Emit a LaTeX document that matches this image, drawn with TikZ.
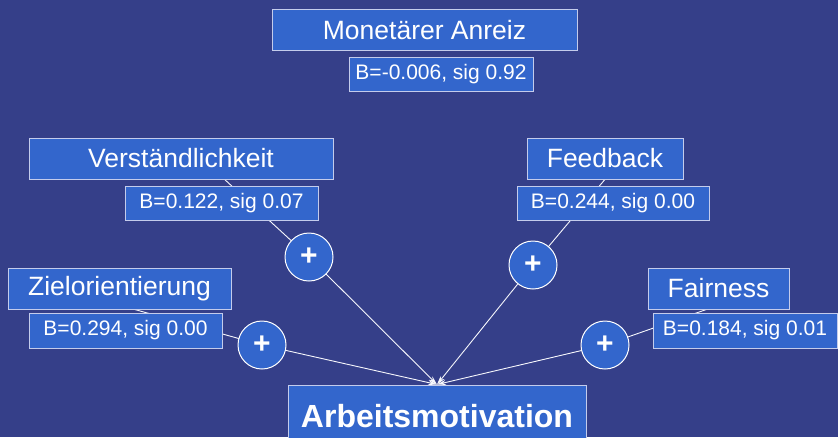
\documentclass[tikz,border=0pt]{standalone}
\usepackage{fontspec}
\setmainfont{Liberation Sans}
\usepackage{xcolor}
\usetikzlibrary{arrows.meta}
\definecolor{slidebg}{RGB}{53,63,137}
\definecolor{boxfill}{RGB}{51,102,204}
\definecolor{boxline}{RGB}{196,204,236}
\pgfdeclarelayer{bg}
\pgfdeclarelayer{edges}
\pgfsetlayers{bg,edges,main}

\begin{document}
\begin{tikzpicture}[x=1pt,y=-1pt,
  box/.style={rectangle,draw=boxline,line width=1pt,fill=boxfill,text=white,inner sep=0pt},
  factor/.style={box,font=\fontsize{26.5}{30}\selectfont,minimum height=41pt},
  coef/.style={box,font=\fontsize{21}{25}\selectfont,minimum height=34pt},
  plus/.style={circle,draw=white,line width=1pt,fill=boxfill,text=white,minimum size=48pt,inner sep=0pt,font=\fontsize{30}{30}\bfseries\selectfont},
  link/.style={draw=white!85!boxline,line width=0.9pt}]
\useasboundingbox (0,0) rectangle (838,437);
\begin{pgfonlayer}{bg}
\fill[slidebg] (0,0) rectangle (838,437);
\end{pgfonlayer}
\node[factor,minimum width=305pt] (mon) at (424.5,30) {Monetärer Anreiz};
\node[coef,minimum width=184pt] (bmon) at (441,74) {B=-0.006, sig 0.92};
\node[factor,minimum width=304pt] (verst) at (181,158.5) {Verständlichkeit};
\node[coef,minimum width=193pt] (bverst) at (221.5,203) {B=0.122, sig 0.07};
\node[factor,minimum width=223pt] (ziel) at (119.5,288.5) {Zielorientierung};
\node[coef,minimum width=193pt,minimum height=35pt] (bziel) at (125.5,330.5) {B=0.294, sig 0.00};
\node[factor,minimum width=156pt] (feed) at (605,158.5) {Feedback};
\node[coef,minimum width=192pt] (bfeed) at (613,203) {B=0.244, sig 0.00};
\node[factor,minimum width=141pt] (fair) at (718.5,288.5) {Fairness};
\node[coef,minimum width=184pt,minimum height=35pt] (bfair) at (745,330.5) {B=0.184, sig 0.01};
\node[box,minimum width=298pt,minimum height=62pt,font=\fontsize{32}{36}\bfseries\selectfont] (arb) at (437,416) {Arbeitsmotivation};
\node[plus] (plusV) at (309,257) {+};
\node[plus] (plusZ) at (262,345) {+};
\node[plus] (plusF) at (533,265) {+};
\node[plus] (plusR) at (605,345) {+};
\coordinate (sV) at (210,166);
\coordinate (sZ) at (115,304);
\coordinate (sF) at (612,171);
\coordinate (sR) at (722,304);
\begin{pgfonlayer}{edges}
\path (sV) edge [link] (plusV.center);
\path (plusV.center) edge [link,-{Stealth[length=9pt,width=5pt]}] (arb.north);
\path (sZ) edge [link] (plusZ.center);
\path (plusZ.center) edge [link,-{Stealth[length=9pt,width=5pt]}] (arb.north);
\path (sF) edge [link] (plusF.center);
\path (plusF.center) edge [link,-{Stealth[length=9pt,width=5pt]}] (arb.north);
\path (sR) edge [link] (plusR.center);
\path (plusR.center) edge [link,-{Stealth[length=9pt,width=5pt]}] (arb.north);
\end{pgfonlayer}
\end{tikzpicture}
\end{document}
